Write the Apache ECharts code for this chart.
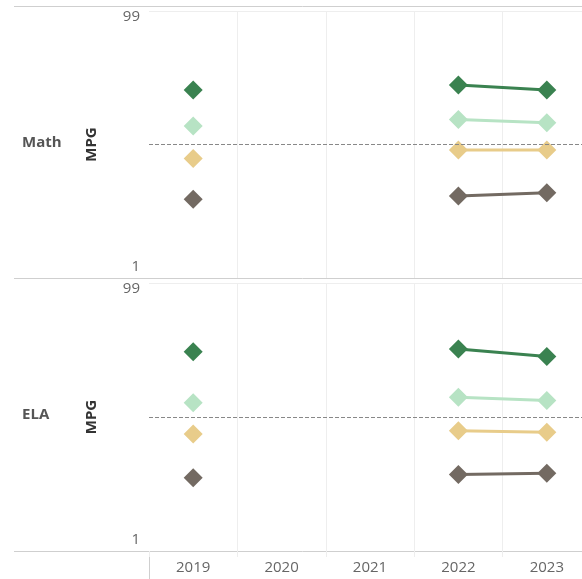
<!DOCTYPE html>
<html>
<head>
<meta charset="utf-8">
<script src="https://cdn.jsdelivr.net/npm/echarts@6/dist/echarts.min.js"></script>
<style>
  html, body { margin: 0; padding: 0; background: #fff; overflow: hidden; }
  /* the reference crops the last column, so the canvas runs past the window */
  #chart { width: 591px; height: 579px; }
</style>
</head>
<body>
<div id="chart"></div>
<script>
// categories
var years = ['2019', '2020', '2021', '2022', '2023'];
var subjects = ['Math', 'ELA'];
var yTicks = [1, 99];
var refLine = 50;

// Math values (MPG)
var mathHigh   = [70.0, null, null, 71.8, 70.0];
var mathMid    = [56.8, null, null, 59.2, 58.0];
var mathLow    = [44.9, null, null, 48.0, 48.0];
var mathBottom = [29.9, null, null, 31.1, 32.3];

// ELA values (MPG)
var elaHigh   = [73.9, null, null, 74.9, 72.1];
var elaMid    = [55.2, null, null, 57.2, 56.0];
var elaLow    = [43.8, null, null, 45.0, 44.4];
var elaBottom = [27.8, null, null, 29.0, 29.4];

var colors = ['#3a8250', '#b7e3c4', '#e8cc8a', '#736a62'];

var chart = echarts.init(document.getElementById('chart'));

function yAxisFor(idx) {
    return {
        type: 'value',
        gridIndex: idx,
        min: 1,
        max: 99,
        name: 'MPG',
        nameLocation: 'middle',
        nameRotate: 90,
        nameGap: 50,
        nameTextStyle: { fontFamily: 'Open Sans', fontSize: 15, fontWeight: 'bold', color: '#333' },
        axisLine: { show: false },
        axisTick: { show: false },
        splitLine: { show: false },
        axisLabel: {
            customValues: yTicks,
            margin: 9,
            color: '#666',
            fontFamily: 'Open Sans',
            fontSize: 15,
            formatter: function (v) {
                return v === 99 ? '{top|' + v + '}' : '{bot|' + v + '}';
            },
            rich: {
                top: { fontFamily: 'Open Sans', fontSize: 15, color: '#666', padding: [12, 0, 0, 0] },
                bot: { fontFamily: 'Open Sans', fontSize: 15, color: '#666', padding: [0, 0, 22, 0] }
            }
        }
    };
}

function xAxisFor(idx, showLabels) {
    return {
        type: 'category',
        gridIndex: idx,
        data: years,
        boundaryGap: true,
        axisLine: { show: false },
        axisTick: {
            show: showLabels,
            length: 6,
            lineStyle: { color: '#eee' }
        },
        axisLabel: {
            show: showLabels,
            color: '#666',
            fontFamily: 'Open Sans',
            fontSize: 15,
            margin: 9
        },
        splitLine: {
            show: true,
            interval: function (i) { return i > 0; },
            lineStyle: { color: '#eeeeee', width: 1 }
        }
    };
}

function seriesFor(idx, name, arr, color, withRef) {
    var s = {
        name: name,
        type: 'line',
        xAxisIndex: idx,
        yAxisIndex: idx,
        data: arr,
        connectNulls: false,
        symbol: 'diamond',
        symbolSize: 19,
        lineStyle: { color: color, width: 3 },
        itemStyle: { color: color },
        z: 3
    };
    if (withRef) {
        s.markLine = {
            silent: true,
            symbol: 'none',
            label: { show: false },
            z: 10,
            data: [
                { yAxis: refLine, lineStyle: { type: [4, 2], color: '#888', width: 1 } },
                { yAxis: 99, lineStyle: { type: 'solid', color: '#eeeeee', width: 1 } }
            ]
        };
    }
    return s;
}

var series = [];
var groups = [
    [mathHigh, mathMid, mathLow, mathBottom],
    [elaHigh, elaMid, elaLow, elaBottom]
];
groups.forEach(function (g, idx) {
    g.forEach(function (arr, k) {
        series.push(seriesFor(idx, subjects[idx] + k, arr, colors[k], k === 0));
    });
});

var option = {
    animation: false,
    backgroundColor: '#fff',
    title: [
        { text: subjects[0], left: 17, top: 130, textStyle: { fontFamily: 'Open Sans', fontSize: 15, fontWeight: 'bold', color: '#555' } },
        { text: subjects[1], left: 17, top: 402, textStyle: { fontFamily: 'Open Sans', fontSize: 15, fontWeight: 'bold', color: '#555' } }
    ],
    grid: [
        { left: 149, top: 11, right: 0, height: 267 },
        { left: 149, top: 283, right: 0, height: 268 }
    ],
    xAxis: [xAxisFor(0, false), xAxisFor(1, true)],
    yAxis: [yAxisFor(0), yAxisFor(1)],
    series: series,
    graphic: [
        { type: 'line', shape: { x1: 14, y1: 6.5, x2: 591, y2: 6.5 }, style: { stroke: '#cfcfcf', lineWidth: 1 } },
        { type: 'line', shape: { x1: 14, y1: 278.5, x2: 591, y2: 278.5 }, style: { stroke: '#cfcfcf', lineWidth: 1 } },
        { type: 'line', shape: { x1: 14, y1: 551.5, x2: 591, y2: 551.5 }, style: { stroke: '#cfcfcf', lineWidth: 1 } },
        { type: 'line', shape: { x1: 149.5, y1: 551, x2: 149.5, y2: 579 }, style: { stroke: '#cfcfcf', lineWidth: 1 } }
    ]
};

chart.setOption(option);

window.addEventListener('resize', function () {
    chart.resize();
});
</script>
</body>
</html>
